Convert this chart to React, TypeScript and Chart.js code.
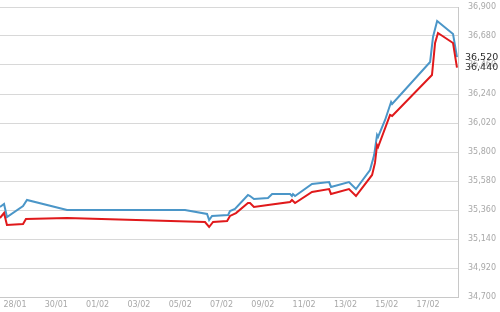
import React, { useEffect, useRef } from "react";
import { Chart, registerables } from "chart.js";

Chart.register(...registerables);

// x values are days counted from 28/01
const xTickDays = [0, 2, 4, 6, 8, 10, 12, 14, 16, 18, 20];
const xTickLabels = ["28/01", "30/01", "01/02", "03/02", "05/02", "07/02", "09/02", "11/02", "13/02", "15/02", "17/02"];
const yTickValues = [34700, 34920, 35140, 35360, 35580, 35800, 36020, 36240, 36460, 36680, 36900];

const blueDays = [-0.73, -0.53, -0.39, 0.39, 0.58, 2.52, 8.23, 9.3, 9.4, 9.54, 10.32, 10.41, 10.65, 11.28, 11.38, 11.57, 12.25, 12.45, 13.32, 13.41, 13.46, 13.56, 14.38, 15.21, 15.3, 16.17, 16.51, 17.19, 17.39, 17.53, 17.58, 17.92, 18.21, 18.26, 20.1, 20.24, 20.44, 21.21, 21.4];
const blueValues = [35383, 35406, 35307, 35390, 35436, 35360, 35360, 35330, 35284, 35315, 35322, 35352, 35368, 35474, 35466, 35443, 35451, 35481, 35481, 35466, 35481, 35466, 35557, 35572, 35535, 35572, 35519, 35663, 35777, 35929, 35914, 36043, 36179, 36164, 36483, 36672, 36794, 36695, 36520];

const redDays = [-0.73, -0.53, -0.39, 0.39, 0.53, 2.52, 9.2, 9.4, 9.59, 10.27, 10.41, 10.7, 11.28, 11.38, 11.57, 12.25, 13.32, 13.41, 13.56, 14.38, 15.21, 15.3, 16.17, 16.51, 17.29, 17.43, 17.53, 17.58, 18.16, 18.26, 20.19, 20.34, 20.48, 21.21, 21.4];
const redValues = [35299, 35337, 35246, 35254, 35292, 35299, 35269, 35231, 35269, 35277, 35315, 35337, 35413, 35413, 35383, 35398, 35421, 35436, 35413, 35497, 35519, 35481, 35519, 35466, 35626, 35717, 35853, 35838, 36081, 36073, 36384, 36627, 36703, 36627, 36440];

const BLUE = "#4b96c8";
const RED = "#e0191b";

const fmt = (v: number) => Math.round(v).toLocaleString("en-US");

const lastLabelsPlugin = {
  id: "lastLabels",
  afterDraw(chart: any) {
    const { ctx, chartArea, scales } = chart;
    const y = scales.y;
    const items = [
      { v: blueValues[blueValues.length - 1], color: "#2a2a2a" },
      { v: redValues[redValues.length - 1], color: "#333333" },
    ];
    ctx.save();
    ctx.font = "9.5px 'DejaVu Sans'";
    ctx.textBaseline = "middle";
    ctx.textAlign = "left";
    items.forEach((it) => {
      ctx.fillStyle = it.color;
      ctx.fillText(fmt(it.v), chartArea.right + 7, y.getPixelForValue(it.v));
    });
    ctx.restore();
  },
};

export default function App() {
  const ref = useRef<HTMLCanvasElement | null>(null);
  useEffect(() => {
    document.body.style.margin = "0";
    if (!ref.current) return;
    const chart = new Chart(ref.current, {
      type: "line",
      data: {
        datasets: [
          {
            label: "red",
            data: redDays.map((d, i) => ({ x: d, y: redValues[i] })),
            borderColor: RED,
            borderWidth: 2,
            pointRadius: 0,
            tension: 0,
            fill: false,
          },
          {
            label: "blue",
            data: blueDays.map((d, i) => ({ x: d, y: blueValues[i] })),
            borderColor: BLUE,
            borderWidth: 2,
            pointRadius: 0,
            tension: 0,
            fill: false,
          },
        ],
      },
      options: {
        animation: false,
        responsive: false,
        maintainAspectRatio: false,
        layout: { padding: { top: 7, left: 0, right: 0, bottom: 0 } },
        plugins: { legend: { display: false }, tooltip: { enabled: false } },
        scales: {
          x: {
            type: "linear",
            min: -0.726,
            max: 21.45,
            afterBuildTicks: (scale: any) => {
              scale.ticks = xTickDays.map((v) => ({ value: v }));
            },
            afterFit: (scale: any) => {
              scale.height = 15;
              scale.paddingLeft = 0;
              scale.paddingRight = 0;
            },
            grid: { display: false, drawTicks: false },
            border: { display: true, color: "#c8c8c8" },
            ticks: {
              autoSkip: false,
              maxRotation: 0,
              padding: 3,
              color: "#a8a8a8",
              font: { family: "'DejaVu Sans'", size: 8 },
              callback: (v: any) => {
                const i = xTickDays.indexOf(Number(v));
                return i >= 0 ? xTickLabels[i] : "";
              },
            },
          },
          y: {
            type: "linear",
            position: "right",
            min: 34700,
            max: 36900,
            afterBuildTicks: (scale: any) => {
              scale.ticks = yTickValues.map((v) => ({ value: v }));
            },
            afterFit: (scale: any) => {
              scale.width = 42;
              scale.paddingTop = 0;
              scale.paddingBottom = 0;
            },
            grid: { color: "#d8d8d8", drawTicks: false },
            border: { display: true, color: "#c8c8c8" },
            ticks: {
              autoSkip: false,
              padding: 10,
              color: "#a8a8a8",
              font: { family: "'DejaVu Sans'", size: 8 },
              callback: (v: any) => fmt(Number(v)),
            },
          },
        },
      },
      plugins: [lastLabelsPlugin],
    });
    return () => chart.destroy();
  }, []);
  return (
    <div style={{ position: "absolute", left: 0, top: 0, width: 500, height: 312, background: "#fff" }}>
      <canvas ref={ref} width={500} height={312} style={{ width: 500, height: 312 }} />
    </div>
  );
}
